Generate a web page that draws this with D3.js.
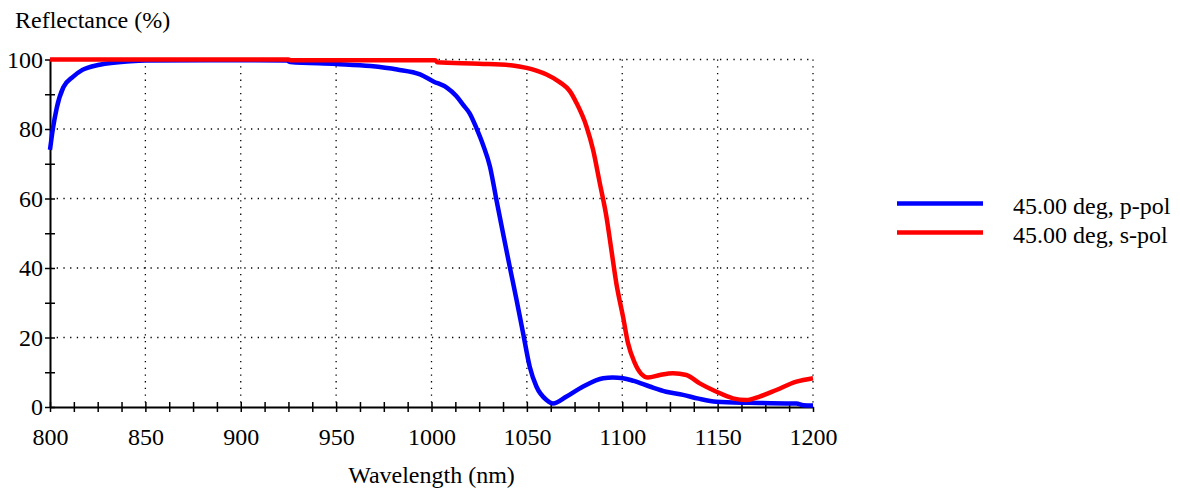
<!DOCTYPE html>
<html>
<head>
<meta charset="utf-8">
<script src="https://cdn.jsdelivr.net/npm/d3@7"></script>
<style>
  body { margin: 0; background: #fff; }
  text { font-family: "Liberation Serif", "Times New Roman", serif; fill: #000; }
</style>
</head>
<body>
<div id="viz"></div>
<script>
//-------Data-----------
var pWavelength = [800, 801.5, 803.5, 807, 812, 817, 826, 842, 850, 900, 924, 926, 950, 968, 982, 994, 1001, 1008, 1013, 1016.5, 1020, 1023.6, 1027, 1030.6, 1034, 1037.5, 1041, 1044.6, 1048, 1051.5, 1055, 1060.3, 1063.7, 1070.8, 1079.5, 1090, 1095, 1100.4, 1106, 1114.4, 1123, 1131.9, 1140, 1149.4, 1166.8, 1191.3, 1195, 1200];
var pReflect    = [74, 80, 86, 92, 95, 97, 98.5, 99.5, 99.7, 99.8, 99.7, 99.3, 98.7, 98.1, 97.1, 95.7, 93.7, 91.9, 89.5, 87, 84.5, 80.2, 75.5, 69.3, 59.7, 50, 40.4, 30.8, 21.3, 11.6, 5.9, 2, 1, 3, 5.9, 8.3, 8.5, 8.3, 7.5, 5.9, 4.4, 3.5, 2.4, 1.5, 1.2, 1, 0.5, 0.4];

var sWavelength = [800, 925, 926, 1002, 1003, 1025, 1042.6, 1049.8, 1055, 1060.3, 1067.2, 1072.5, 1076, 1081.2, 1084.7, 1088.2, 1091.7, 1094.3, 1096.9, 1100.4, 1103, 1106.6, 1110, 1113.5, 1119.7, 1126.6, 1133.6, 1140.6, 1149.4, 1158, 1165, 1172, 1180.8, 1191.3, 1200];
var sReflect    = [100, 100, 99.8, 99.8, 99.2, 98.8, 98.3, 97.6, 96.8, 95.7, 93.5, 90.9, 87.5, 80.8, 74, 64.5, 54.8, 45.2, 35.6, 26, 18.4, 12.6, 9.5, 8.5, 9.2, 9.7, 9.2, 6.8, 4.4, 2.5, 2, 3, 4.9, 7.3, 8.3];

var series = [
  {label: "45.00 deg, p-pol", color: "#0000ff", x: pWavelength, y: pReflect},
  {label: "45.00 deg, s-pol", color: "#ff0000", x: sWavelength, y: sReflect}
];

var xTicks = [800, 850, 900, 950, 1000, 1050, 1100, 1150, 1200];
var yTicks = [0, 20, 40, 60, 80, 100];

//---------------------------------
var width = 1180,
    height = 489;
var margin = {left: 50, top: 59.5, right: 367, bottom: 82};
var plotWidth = width - margin.left - margin.right;
var plotHeight = height - margin.top - margin.bottom;
var fontSize = "24px";

var svg = d3.select("#viz")
  .append("svg")
    .attr("width", width)
    .attr("height", height);

var container = svg.append("g").attr("transform", "translate(" + margin.left + "," + margin.top + ")");

//------Scales-----------
var xScale = d3.scaleLinear().domain([800, 1200]).range([0, plotWidth]);
var yScale = d3.scaleLinear().domain([0, 100]).range([plotHeight, 0]);

//------Grid-----------
var grid = container.append("g")
    .attr("stroke", "#000")
    .attr("stroke-width", 1.3)
    .attr("stroke-dasharray", "1.3,5.4");

grid.selectAll(".vg")
  .data(xTicks.slice(1))
  .enter().append("line")
    .attr("x1", d => xScale(d)).attr("x2", d => xScale(d))
    .attr("y1", 0).attr("y2", plotHeight);

grid.selectAll(".hg")
  .data(yTicks.slice(1))
  .enter().append("line")
    .attr("x1", 0).attr("x2", plotWidth)
    .attr("y1", d => yScale(d)).attr("y2", d => yScale(d));

//------Axes-----------
var xAxis = d3.axisBottom(xScale)
    .tickValues(d3.range(800, 1200.1, 12.5))
    .tickSizeInner(5).tickSizeOuter(0)
    .tickFormat(d => xTicks.indexOf(d) >= 0 ? d : "");

var gX = container.append("g")
    .attr("transform", "translate(0," + plotHeight + ")")
    .call(xAxis);

var yAxis = d3.axisLeft(yScale)
    .tickValues(d3.range(0, 100.1, 10))
    .tickSizeInner(5).tickSizeOuter(0)
    .tickFormat(d => yTicks.indexOf(d) >= 0 ? d : "");

var gY = container.append("g").call(yAxis);

[gX, gY].forEach(g => {
  g.select(".domain").attr("stroke", "#000").attr("stroke-width", 2);
  g.selectAll(".tick line").attr("stroke", "#000").attr("stroke-width", 1.5);
  g.selectAll(".tick text")
    .style("font-family", "'Liberation Serif', 'Times New Roman', serif")
    .style("font-size", fontSize)
    .attr("fill", "#000");
});
// ticks cross the axis line
gX.selectAll(".tick line").attr("y1", -5).attr("y2", 5);
gX.selectAll(".tick text").attr("y", 38).attr("dy", 0);
gY.selectAll(".tick line").attr("x1", -5).attr("x2", 5);
gY.selectAll(".tick text").attr("x", -7).attr("dy", "0.33em");
gX.selectAll(".tick").filter(d => d === 1200).select("line").attr("y1", 0);

//------Lines-----------
var line = d3.line()
    .x(d => xScale(d[0]))
    .y(d => yScale(d[1]))
    .curve(d3.curveMonotoneX);

container.append("g")
  .selectAll("path")
  .data(series)
  .enter().append("path")
    .attr("d", s => line(s.x.map((v, i) => [v, s.y[i]])))
    .attr("fill", "none")
    .attr("stroke", s => s.color)
    .attr("stroke-width", 4.5)
    .attr("stroke-linejoin", "round");

//------Labels-----------
svg.append("text")
    .attr("x", 15).attr("y", 28)
    .style("font-size", fontSize)
    .text("Reflectance (%)");

svg.append("text")
    .attr("x", margin.left + plotWidth / 2).attr("y", 483)
    .attr("text-anchor", "middle")
    .style("font-size", fontSize)
    .text("Wavelength (nm)");

//------Legend-----------
var legend = svg.append("g")
  .selectAll("g")
  .data(series)
  .enter().append("g")
    .attr("transform", (d, i) => "translate(897," + (203.5 + i * 29) + ")");

legend.append("line")
    .attr("x1", 0).attr("x2", 86)
    .attr("stroke", d => d.color)
    .attr("stroke-width", 4.5);

legend.append("text")
    .attr("x", 116).attr("y", 10)
    .style("font-size", fontSize)
    .text(d => d.label);
</script>
</body>
</html>
